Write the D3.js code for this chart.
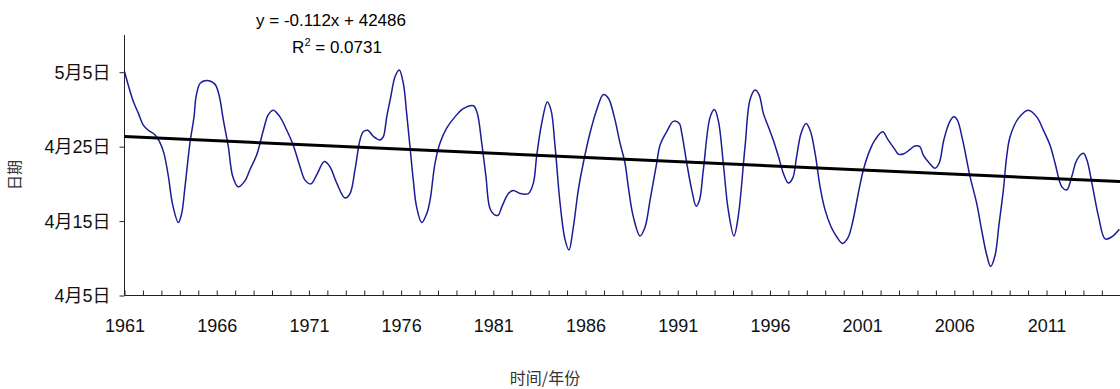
<!DOCTYPE html>
<html><head><meta charset="utf-8">
<script src="https://cdn.jsdelivr.net/npm/d3@7"></script>
<style>
html,body{margin:0;padding:0;background:#fff;}
svg text{font-family:"Liberation Sans",Arial,"Noto Sans CJK SC",sans-serif;}
</style></head>
<body>
<svg id="c" width="1120" height="389"></svg>
<script>
// fractional year positions of the plotted (smoothed) series
const years = [1961.00,1961.48,1961.75,1962.02,1962.29,1962.65,1962.93,1963.14,1963.38,1963.61,1963.92,1964.10,1964.28,1964.55,1964.77,1964.88,1965.10,1965.46,1965.90,1966.12,1966.36,1966.63,1966.87,1967.17,1967.53,1967.80,1968.17,1968.53,1968.80,1969.07,1969.43,1969.80,1970.15,1970.52,1970.79,1971.11,1971.42,1971.84,1972.14,1972.51,1972.96,1973.23,1973.50,1973.77,1973.95,1974.19,1974.49,1974.86,1975.03,1975.22,1975.44,1975.67,1975.90,1976.12,1976.30,1976.48,1976.66,1976.84,1977.12,1977.39,1977.57,1977.84,1978.11,1978.47,1978.92,1979.37,1979.92,1980.13,1980.37,1980.60,1980.82,1981.10,1981.27,1981.46,1981.82,1982.08,1982.45,1982.90,1983.17,1983.35,1983.62,1983.93,1984.13,1984.35,1984.62,1984.89,1985.10,1985.34,1985.61,1985.88,1986.24,1986.60,1986.97,1987.24,1987.56,1987.87,1988.14,1988.32,1988.59,1988.96,1989.23,1989.50,1989.86,1990.04,1990.40,1990.76,1991.09,1991.22,1991.49,1991.76,1992.00,1992.18,1992.39,1992.76,1992.99,1993.21,1993.47,1993.74,1994.05,1994.28,1994.65,1994.92,1995.19,1995.41,1995.64,1995.91,1996.18,1996.46,1996.73,1997.00,1997.24,1997.45,1997.69,1997.96,1998.18,1998.45,1998.72,1998.99,1999.32,1999.62,1999.93,2000.22,2000.47,2000.79,2001.07,2001.43,2001.70,2002.11,2002.41,2002.78,2002.96,2003.23,2003.59,2003.86,2004.13,2004.31,2004.64,2004.95,2005.18,2005.43,2005.76,2005.98,2006.16,2006.45,2006.85,2007.21,2007.48,2007.76,2007.97,2008.21,2008.42,2008.66,2008.84,2009.02,2009.47,2010.01,2010.47,2010.83,2011.19,2011.46,2011.83,2012.10,2012.37,2012.64,2013.00,2013.19,2013.46,2013.82,2014.18,2014.55,2014.95];
// date value as day-of-April (5 = 4月5日, 35 = 5月5日)
const days = [35.1,31.05,29.5,27.9,27.2,26.6,25.5,24.1,21.0,17.2,14.8,16.0,19.6,25.5,29.0,31.7,33.5,33.9,33.4,32.0,28.6,25.0,21.0,19.6,20.4,21.9,23.9,27.2,29.3,29.9,29.0,27.2,25.2,22.3,20.5,20.0,21.2,23.0,22.3,20.1,18.1,18.7,21.9,25.9,27.0,27.2,26.4,25.9,26.3,29.0,31.7,34.4,35.3,33.5,29.5,25.0,20.5,16.9,14.8,16.0,17.8,22.8,25.5,27.5,29.0,30.1,30.5,29.5,25.5,21.0,16.7,15.8,15.8,16.9,18.7,19.1,18.7,18.7,20.1,23.7,28.1,31.0,29.9,25.0,17.4,12.5,11.1,14.2,19.2,22.8,26.8,29.9,32.0,31.5,29.0,25.5,22.8,19.6,15.6,13.0,14.2,17.8,22.8,25.2,27.0,28.4,28.1,26.8,22.8,19.2,17.0,17.8,21.9,29.0,30.0,28.4,22.8,16.5,13.0,15.6,25.0,31.3,32.6,32.0,29.5,27.7,25.9,23.7,21.4,20.1,20.8,23.7,26.8,28.1,27.2,24.1,19.6,16.5,14.2,12.9,12.0,12.7,14.7,18.7,21.9,24.6,25.9,27.0,25.9,24.6,24.0,24.0,24.6,25.1,25.0,23.9,22.8,22.1,22.8,25.9,28.4,29.0,28.6,25.9,21.0,17.4,13.8,10.4,8.9,10.4,14.5,19.2,23.7,26.3,28.8,29.9,29.0,27.2,25.2,22.8,19.6,19.2,21.0,23.2,24.1,23.2,20.1,15.6,12.6,12.9,13.9];
const yTickValues = [5, 15, 25, 35];
const yTickLabels = ["4月5日", "4月15日", "4月25日", "5月5日"];
const xLabelYears = [1961, 1966, 1971, 1976, 1981, 1986, 1991, 1996, 2001, 2006, 2011];
const trendSlope = -0.112;      // days per year
const trendAt1961 = 26.35;      // day-of-April at 1961
const eqText = "y = -0.112x + 42486";
const r2Value = "0.0731";

const svg = d3.select("#c");
const x = d3.scaleLinear().domain([1961, 2015]).range([124.5, 1120.3]);
const y = d3.scaleLinear().domain([5, 40]).range([295.5, 35]);

// axes
const yAxis = d3.axisLeft(y).tickValues(yTickValues).tickFormat((d, i) => yTickLabels[i]).tickSize(5).tickPadding(9);
const gy = svg.append("g").attr("transform", "translate(124.5,0)").call(yAxis);
gy.select(".domain").attr("stroke", "#222").attr("d", `M0,${y(40)}V${y(5)}`);
gy.selectAll(".tick line").attr("stroke", "#222");
gy.selectAll(".tick text").attr("font-size", 18).attr("fill", "#111").attr("dy", "0.34em");

const xAxis = d3.axisBottom(x).tickValues(d3.range(1961, 2016)).tickSize(0).tickFormat(d => xLabelYears.includes(d) ? d : "");
const gx = svg.append("g").attr("transform", "translate(0,295.5)").call(xAxis);
gx.select(".domain").attr("stroke", "#222").attr("d", `M${x(1961)},0H1120`);
gx.selectAll(".tick line").attr("stroke", "#222").attr("y2", -5);
gx.selectAll(".tick text").attr("font-size", 18).attr("fill", "#111").attr("y", 24).attr("dy", "0.71em");

// series line
const pts = years.map((t, i) => [t, days[i]]);
svg.append("path").datum(pts)
  .attr("fill", "none").attr("stroke", "#1c1c96").attr("stroke-width", 1.5)
  .attr("d", d3.line().x(d => x(d[0])).y(d => y(d[1])).curve(d3.curveCatmullRom.alpha(0.5)));

// trend line
const tEnds = [1961, 2015].map(t => [t, trendAt1961 + trendSlope * (t - 1961)]);
svg.append("line")
  .attr("x1", x(tEnds[0][0])).attr("y1", y(tEnds[0][1]))
  .attr("x2", x(tEnds[1][0])).attr("y2", y(tEnds[1][1]))
  .attr("stroke", "#000").attr("stroke-width", 3);

// equation
svg.append("text").attr("x", 331).attr("y", 26).attr("text-anchor", "middle")
  .attr("font-size", 17).attr("fill", "#000").text(eqText);
const r2 = svg.append("text").attr("x", 337).attr("y", 53).attr("text-anchor", "middle")
  .attr("font-size", 17).attr("fill", "#000");
r2.append("tspan").text("R");
r2.append("tspan").attr("font-size", 11).attr("dy", -7).text("2");
r2.append("tspan").attr("dy", 7).text(" = " + r2Value);

// axis titles
svg.append("text").attr("transform", "translate(20,175) rotate(-90)").attr("text-anchor", "middle")
  .attr("font-size", 15).attr("fill", "#333").style("font-family", "'Noto Sans CJK SC',sans-serif").text("日期");
svg.append("text").attr("x", 545).attr("y", 384).attr("text-anchor", "middle")
  .attr("font-size", 16).attr("fill", "#333").style("font-family", "'Noto Sans CJK SC',sans-serif").text("时间/年份");
</script>
</body></html>
